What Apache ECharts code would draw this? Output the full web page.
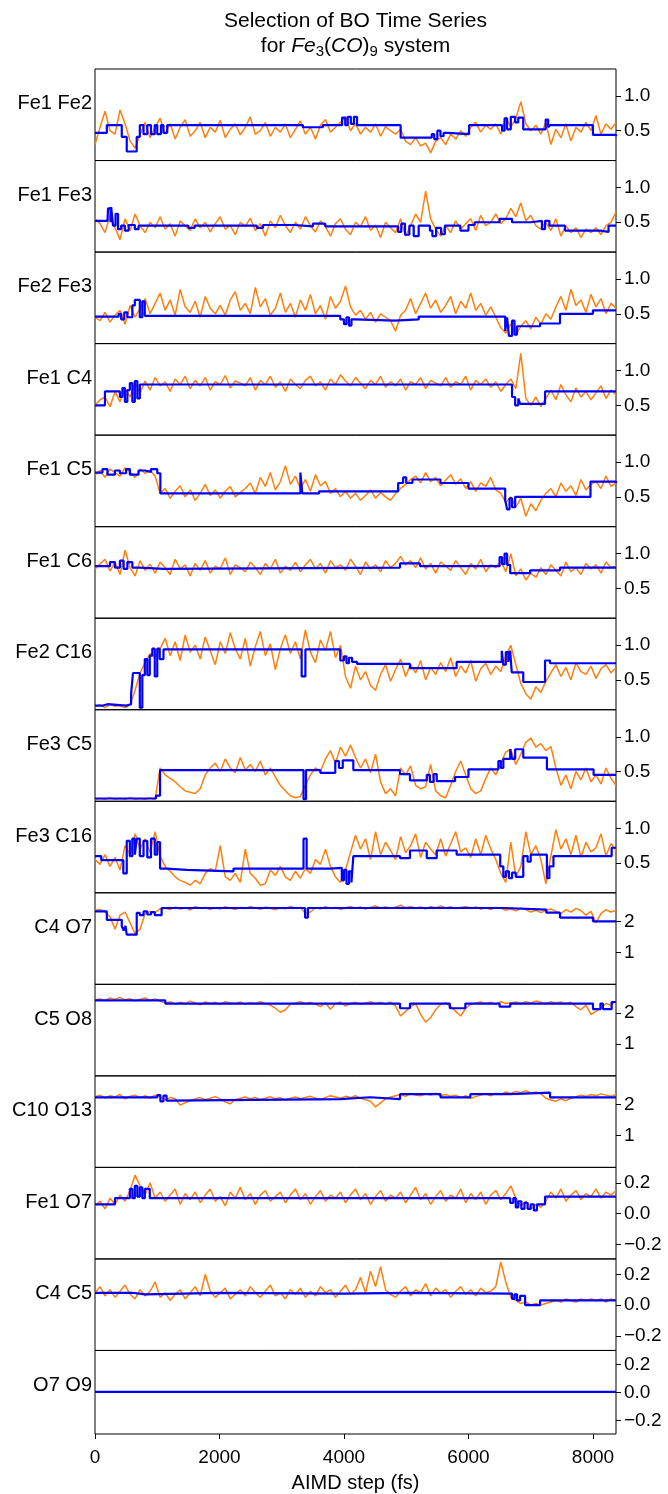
<!DOCTYPE html>
<html>
<head>
<meta charset="utf-8">
<script src="https://cdn.jsdelivr.net/npm/echarts@6/dist/echarts.min.js"></script>
<style>
  html, body { margin: 0; padding: 0; background: #fff; }
  #chart { width: 668px; height: 1494px; }
</style>
</head>
<body>
<div id="chart"></div>
<script>
// x axis
const X_MAX = 8370;
const X_TICKS = [0, 2000, 4000, 6000, 8000];

// y axis groups: [min, max, tick values]
const Y_FE = [0.07, 1.39, [0.5, 1.0]];
const Y_CO = [-0.03, 2.92, [1, 2]];
const Y_SMALL = [-0.295, 0.3, [-0.2, 0.0, 0.2]];

const PANEL_LABELS = ['Fe1 Fe2', 'Fe1 Fe3', 'Fe2 Fe3', 'Fe1 C4', 'Fe1 C5', 'Fe1 C6', 'Fe2 C16',
  'Fe3 C5', 'Fe3 C16', 'C4 O7', 'C5 O8', 'C10 O13', 'Fe1 O7', 'C4 C5', 'O7 O9'];

// orange series: evenly sampled over 0..X_MAX
const fe1Fe2Orange = [0.30,0.55,0.78,0.50,0.45,0.80,0.60,0.35,0.25,0.45,
  0.62,0.40,0.55,0.68,0.45,0.60,0.38,0.55,0.66,0.42,
  0.50,0.62,0.40,0.55,0.48,0.65,0.40,0.52,0.60,0.44,
  0.55,0.70,0.45,0.50,0.62,0.42,0.55,0.48,0.60,0.40,
  0.52,0.64,0.45,0.55,0.38,0.58,0.66,0.48,0.55,0.62,
  0.70,0.50,0.60,0.45,0.55,0.48,0.60,0.42,0.56,0.50,
  0.45,0.52,0.35,0.30,0.40,0.28,0.32,0.18,0.35,0.40,
  0.30,0.45,0.38,0.50,0.42,0.55,0.62,0.48,0.58,0.52,
  0.60,0.45,0.70,0.55,0.68,0.92,0.60,0.50,0.58,0.45,
  0.62,0.30,0.52,0.40,0.60,0.35,0.55,0.48,0.62,0.50,
  0.72,0.45,0.60,0.52,0.62];
const fe1Fe3Orange = [0.55,0.48,0.35,0.60,0.42,0.25,0.55,0.38,0.62,0.45,
  0.35,0.50,0.42,0.58,0.40,0.48,0.30,0.52,0.45,0.38,
  0.55,0.42,0.50,0.36,0.48,0.58,0.40,0.45,0.32,0.50,
  0.44,0.56,0.38,0.48,0.30,0.52,0.42,0.60,0.45,0.35,
  0.50,0.40,0.58,0.45,0.36,0.52,0.44,0.30,0.48,0.55,
  0.40,0.32,0.50,0.44,0.58,0.38,0.46,0.28,0.50,0.42,
  0.35,0.55,0.30,0.45,0.62,0.50,0.95,0.55,0.40,0.30,
  0.45,0.35,0.52,0.40,0.48,0.55,0.38,0.60,0.45,0.50,
  0.62,0.48,0.55,0.70,0.58,0.78,0.52,0.60,0.45,0.40,
  0.50,0.38,0.55,0.30,0.45,0.35,0.42,0.28,0.40,0.35,
  0.42,0.32,0.45,0.50,0.65];
const fe2Fe3Orange = [0.45,0.40,0.52,0.38,0.48,0.55,0.35,0.62,0.45,0.58,
  0.72,0.50,0.65,0.80,0.55,0.70,0.48,0.85,0.60,0.52,
  0.68,0.45,0.75,0.58,0.50,0.62,0.48,0.70,0.82,0.55,
  0.65,0.50,0.88,0.60,0.72,0.48,0.58,0.80,0.52,0.65,
  0.45,0.70,0.55,0.78,0.50,0.62,0.42,0.75,0.58,0.68,
  0.90,0.60,0.48,0.55,0.42,0.52,0.38,0.50,0.45,0.40,
  0.25,0.48,0.55,0.72,0.50,0.65,0.80,0.58,0.70,0.52,
  0.62,0.75,0.50,0.68,0.58,0.80,0.55,0.65,0.48,0.60,
  0.45,0.30,0.22,0.35,0.20,0.32,0.40,0.28,0.45,0.35,
  0.50,0.42,0.60,0.75,0.55,0.85,0.62,0.70,0.52,0.78,
  0.60,0.72,0.50,0.65,0.58];
const fe1C4Orange = [0.50,0.58,0.62,0.48,0.70,0.55,0.75,0.62,0.82,0.68,
  0.85,0.72,0.90,0.78,0.84,0.70,0.88,0.80,0.92,0.74,
  0.86,0.78,0.90,0.72,0.84,0.80,0.93,0.75,0.85,0.82,
  0.78,0.90,0.72,0.86,0.80,0.92,0.76,0.84,0.70,0.88,
  0.80,0.74,0.86,0.92,0.78,0.84,0.72,0.88,0.80,0.94,
  0.85,0.78,0.90,0.82,0.74,0.86,0.80,0.92,0.76,0.84,
  0.78,0.88,0.72,0.84,0.80,0.90,0.74,0.86,0.82,0.78,
  0.90,0.76,0.84,0.80,0.92,0.72,0.86,0.80,0.88,0.76,
  0.84,0.70,0.80,0.88,0.74,1.25,0.60,0.50,0.62,0.48,
  0.60,0.72,0.58,0.80,0.65,0.55,0.75,0.62,0.70,0.58,
  0.68,0.78,0.60,0.72,0.65];
const fe1C5Orange = [0.82,0.88,0.78,0.90,0.85,0.80,0.92,0.86,0.78,0.90,
  0.84,0.88,0.80,0.55,0.62,0.48,0.58,0.66,0.50,0.60,
  0.45,0.55,0.68,0.52,0.60,0.48,0.58,0.65,0.50,0.56,
  0.62,0.70,0.55,0.78,0.65,0.85,0.60,0.72,0.95,0.68,
  0.80,0.62,0.75,0.58,0.82,0.66,0.72,0.55,0.62,0.50,
  0.58,0.48,0.55,0.45,0.52,0.60,0.48,0.56,0.50,0.45,
  0.55,0.62,0.68,0.75,0.80,0.70,0.85,0.72,0.78,0.66,
  0.74,0.82,0.68,0.76,0.62,0.72,0.58,0.70,0.65,0.78,
  0.60,0.55,0.42,0.50,0.35,0.48,0.22,0.40,0.30,0.45,
  0.55,0.62,0.50,0.70,0.58,0.66,0.52,0.75,0.60,0.68,
  0.72,0.62,0.80,0.65,0.70];
const fe1C6Orange = [0.78,0.85,0.92,0.75,0.88,0.70,1.05,0.80,0.68,0.90,
  0.76,0.85,0.72,0.88,0.80,0.70,0.92,0.78,0.84,0.68,
  0.86,0.76,0.90,0.72,0.82,0.78,0.94,0.70,0.84,0.80,
  0.74,0.88,0.80,0.70,0.86,0.78,0.92,0.72,0.82,0.76,
  0.88,0.74,0.84,0.92,0.78,0.86,0.72,0.90,0.80,0.84,
  0.76,0.92,0.82,0.70,0.88,0.78,0.84,0.74,0.90,0.80,
  0.86,0.96,0.84,0.90,0.80,0.94,0.78,0.86,0.72,0.88,
  0.82,0.76,0.90,0.80,0.70,0.86,0.78,0.92,0.74,0.84,
  0.80,0.90,0.74,1.00,0.68,0.78,0.62,0.72,0.66,0.80,
  0.70,0.84,0.76,0.68,0.88,0.74,0.80,0.70,0.86,0.78,
  0.84,0.72,0.88,0.80,0.82];
const fe2C16Orange = [0.12,0.14,0.10,0.15,0.12,0.13,0.10,0.14,0.35,0.60,
  0.75,0.88,0.82,0.95,1.10,0.85,1.05,0.78,1.15,0.90,
  1.00,0.80,1.12,0.92,0.72,1.05,0.88,1.18,0.95,0.80,
  1.10,0.70,0.98,1.20,0.85,1.02,0.65,0.95,1.15,0.88,
  1.05,0.80,1.22,0.90,0.75,1.08,0.92,1.20,0.82,1.00,
  0.55,0.38,0.70,0.50,0.62,0.42,0.35,0.58,0.72,0.48,
  0.65,0.80,0.55,0.72,0.60,0.78,0.50,0.68,0.58,0.75,
  0.62,0.82,0.55,0.70,0.60,0.78,0.48,0.66,0.74,0.58,
  0.70,0.62,0.85,1.00,0.72,0.45,0.30,0.22,0.40,0.32,
  0.48,0.60,0.72,0.55,0.68,0.50,0.75,0.62,0.58,0.70,
  0.52,0.66,0.72,0.60,0.68];
const fe3C5Orange = [0.10,0.11,0.10,0.12,0.10,0.11,0.10,0.12,0.10,0.11,
  0.10,0.12,0.10,0.55,0.45,0.40,0.35,0.28,0.22,0.20,
  0.18,0.25,0.45,0.55,0.62,0.50,0.68,0.55,0.48,0.70,
  0.52,0.60,0.50,0.65,0.45,0.55,0.42,0.30,0.22,0.15,
  0.12,0.14,0.30,0.45,0.55,0.50,0.68,0.80,0.62,0.85,
  0.72,0.88,0.70,0.55,0.68,0.48,0.75,0.35,0.18,0.25,
  0.15,0.55,0.45,0.58,0.30,0.25,0.28,0.60,0.22,0.15,
  0.12,0.30,0.50,0.65,0.45,0.25,0.18,0.22,0.40,0.55,
  0.45,0.62,0.78,0.82,0.60,0.75,0.92,0.98,0.85,0.90,
  0.80,0.86,0.55,0.30,0.45,0.25,0.50,0.38,0.55,0.35,
  0.45,0.32,0.55,0.40,0.30];
const fe3C16Orange = [0.55,0.48,0.62,0.45,0.58,0.40,0.75,0.62,0.92,0.70,
  0.85,0.65,0.95,0.60,0.45,0.38,0.30,0.25,0.22,0.18,
  0.25,0.20,0.35,0.42,0.38,0.75,0.30,0.25,0.35,0.22,
  0.70,0.35,0.28,0.18,0.20,0.40,0.32,0.45,0.30,0.25,
  0.38,0.28,0.42,0.35,0.55,0.48,0.70,0.45,0.30,0.22,
  0.40,0.65,0.90,0.70,0.85,0.55,0.95,0.62,0.80,0.68,
  0.55,0.88,0.65,0.75,0.92,0.58,0.80,0.70,0.62,0.85,
  0.60,0.78,0.95,0.66,0.72,0.58,0.85,0.62,0.90,0.70,
  0.55,0.35,0.22,0.80,0.30,0.45,0.95,0.62,0.75,0.55,
  0.20,0.60,0.98,0.70,0.85,0.62,0.90,0.58,0.80,0.66,
  0.72,0.92,0.60,0.78,0.68];
const c4O7Orange = [2.35,2.38,2.30,2.15,1.75,2.20,2.30,1.95,1.60,1.75,
  2.25,2.32,2.28,2.40,2.42,2.38,2.46,2.40,2.44,2.36,
  2.48,2.42,2.45,2.38,2.44,2.40,2.47,2.42,2.38,2.45,
  2.41,2.48,2.43,2.39,2.46,2.42,2.37,2.44,2.40,2.48,
  2.42,2.45,2.25,2.30,2.44,2.40,2.47,2.42,2.45,2.38,
  2.44,2.48,2.42,2.46,2.40,2.45,2.50,2.43,2.47,2.41,
  2.46,2.52,2.44,2.48,2.42,2.46,2.40,2.48,2.44,2.50,
  2.43,2.47,2.41,2.45,2.48,2.42,2.46,2.40,2.44,2.38,
  2.45,2.42,2.36,2.40,2.34,2.42,2.38,2.30,2.36,2.28,
  2.35,2.40,2.32,2.25,2.38,2.30,2.42,2.35,2.20,2.32,
  1.95,2.25,2.38,2.30,2.35];
const c5O8Orange = [2.42,2.45,2.40,2.48,2.44,2.50,2.42,2.46,2.38,2.44,
  2.48,2.40,2.45,2.38,2.32,2.36,2.28,2.34,2.30,2.38,
  2.32,2.26,2.35,2.30,2.34,2.28,2.36,2.32,2.30,2.35,
  2.28,2.33,2.30,2.36,2.30,2.25,2.15,2.02,2.10,2.28,
  2.32,2.36,2.30,2.34,2.28,2.20,2.32,2.12,2.30,2.35,
  2.22,2.30,2.34,2.28,2.32,2.36,2.30,2.34,2.28,2.35,
  2.22,1.90,2.05,2.20,2.30,1.95,1.70,1.85,2.10,2.28,
  2.32,2.20,2.05,1.90,2.15,2.28,2.32,2.35,2.30,2.34,
  2.28,2.36,2.30,2.33,2.35,2.30,2.36,2.32,2.38,2.34,
  2.30,2.36,2.32,2.35,2.30,2.34,2.20,2.10,2.25,1.95,
  2.05,2.15,2.30,2.25,2.38];
const c10O13Orange = [2.25,2.30,2.20,2.28,2.24,2.32,2.18,2.26,2.30,2.22,
  2.28,2.20,2.30,2.24,2.15,2.22,2.18,1.98,2.05,2.12,
  2.18,2.22,2.15,2.20,2.25,2.18,2.08,2.02,2.15,2.20,
  2.24,2.18,2.22,2.16,2.20,2.25,2.18,2.22,2.14,2.20,
  2.24,2.18,2.22,2.26,2.20,2.15,2.22,2.28,2.24,2.20,
  2.26,2.22,2.28,2.20,2.15,2.10,1.92,2.05,2.18,2.24,
  2.28,2.32,2.26,2.35,2.30,2.28,2.34,2.30,2.36,2.28,
  2.32,2.26,2.30,2.22,2.28,2.20,2.25,2.30,2.34,2.28,
  2.36,2.32,2.40,2.35,2.42,2.38,2.44,2.36,2.40,2.34,
  2.20,2.14,2.10,2.18,2.12,2.20,2.25,2.30,2.26,2.32,
  2.28,2.34,2.30,2.26,2.32];
const fe1O7Orange = [0.05,0.08,0.03,0.10,0.06,0.12,0.08,0.15,0.25,0.18,
  0.12,0.20,0.10,0.14,0.08,0.12,0.16,0.06,0.13,0.09,
  0.14,0.07,0.12,0.16,0.08,0.11,0.05,0.14,0.10,0.17,
  0.09,0.13,0.06,0.12,0.15,0.08,0.11,0.14,0.07,0.12,
  0.16,0.09,0.13,0.06,0.11,0.15,0.08,0.12,0.10,0.14,
  0.07,0.12,0.16,0.09,0.13,0.06,0.11,0.15,0.08,0.12,
  0.10,0.14,0.07,0.12,0.17,0.09,0.13,0.06,0.11,0.15,
  0.08,0.12,0.10,0.16,0.07,0.13,0.09,0.14,0.06,0.12,
  0.15,0.09,0.13,0.18,0.10,0.05,0.08,0.03,0.06,0.04,
  0.08,0.14,0.10,0.16,0.08,0.12,0.15,0.09,0.13,0.11,
  0.16,0.10,0.14,0.12,0.15];
const c4C5Orange = [0.08,0.12,0.06,0.10,0.05,0.09,0.13,0.07,0.04,0.10,
  0.06,0.09,0.15,0.05,0.08,0.03,0.07,0.10,0.04,0.08,
  0.12,0.06,0.20,0.09,0.05,0.08,0.11,0.04,0.07,0.10,
  0.06,0.12,0.08,0.05,0.09,0.13,0.06,0.08,0.04,0.10,
  0.07,0.11,0.05,0.09,0.06,0.12,0.08,0.10,0.05,0.09,
  0.13,0.07,0.10,0.18,0.08,0.22,0.12,0.25,0.10,0.07,
  0.05,0.09,0.12,0.06,0.10,0.08,0.14,0.06,0.11,0.08,
  0.10,0.05,0.09,0.12,0.07,0.10,0.06,0.11,0.08,0.09,
  0.12,0.28,0.15,0.05,0.03,0.01,0.02,0.00,0.01,0.00,
  0.01,0.02,0.03,0.02,0.04,0.03,0.02,0.04,0.03,0.04,
  0.03,0.04,0.02,0.04,0.03];
const o7O9Orange = [0.005,0.004,0.006,0.005,0.004,0.005,0.006,0.004,0.005,0.005,0.004];

// blue series: [step start, value] held until the next entry
const fe1Fe2Blue = [[0,0.47],[190,0.58],[430,0.41],[510,0.20],[670,0.41],[720,0.58],[780,0.45],[840,0.58],
  [900,0.45],[960,0.58],[1000,0.45],[1060,0.58],[1100,0.47],[1160,0.58],[3340,0.55],[3660,0.58],
  [3970,0.69],[4020,0.58],[4060,0.70],[4110,0.60],[4160,0.70],[4210,0.58],[4910,0.40],[5410,0.45],
  [5450,0.38],[5500,0.50],[5550,0.42],[5600,0.47],[5670,0.45],[6010,0.58],[6540,0.50],[6580,0.68],
  [6620,0.52],[6680,0.70],[6750,0.62],[6800,0.69],[6880,0.52],[7240,0.66],[7280,0.55],[7310,0.58],
  [8000,0.44],[8370,0.42]];
const fe1Fe3Blue = [[0,0.52],[200,0.50],[210,0.70],[250,0.50],[260,0.72],[290,0.45],[330,0.62],[370,0.40],
  [420,0.45],[480,0.38],[540,0.46],[640,0.40],[700,0.45],[1500,0.42],[1600,0.45],[2600,0.42],
  [2700,0.46],[3200,0.44],[3500,0.48],[3700,0.44],[4870,0.36],[4920,0.48],[4980,0.32],[5050,0.45],
  [5120,0.30],[5200,0.45],[5380,0.38],[5420,0.30],[5480,0.42],[5560,0.33],[5620,0.45],[5870,0.38],
  [6000,0.46],[6100,0.50],[6500,0.55],[6700,0.50],[7000,0.52],[7180,0.40],[7230,0.52],[7300,0.45],
  [7550,0.38],[8120,0.36],[8250,0.45],[8370,0.45]];
const fe2Fe3Blue = [[0,0.46],[380,0.50],[420,0.42],[470,0.52],[520,0.45],[600,0.62],[640,0.70],[720,0.45],
  [760,0.68],[800,0.47],[3940,0.42],[4000,0.35],[4040,0.45],[4080,0.33],[4120,0.42],[4180,0.40],
  [4820,0.42],[5200,0.46],[6590,0.25],[6620,0.45],[6650,0.18],[6700,0.40],[6740,0.20],[6780,0.32],
  [7150,0.36],[7470,0.50],[8000,0.55],[8370,0.55]];
const fe1C4Blue = [[0,0.50],[160,0.70],[400,0.62],[440,0.75],[480,0.55],[520,0.72],[560,0.82],[600,0.55],
  [640,0.85],[680,0.60],[720,0.80],[6700,0.62],[6750,0.50],[6800,0.60],[6830,0.52],[7230,0.70],[8370,0.70]];
const fe1C5Blue = [[0,0.85],[120,0.90],[200,0.82],[320,0.88],[400,0.84],[500,0.90],[560,0.82],[700,0.88],
  [800,0.86],[900,0.90],[1000,0.84],[1050,0.55],[3300,0.85],[3330,0.55],[3600,0.58],[4870,0.70],
  [4950,0.78],[5000,0.70],[5100,0.75],[5550,0.70],[6000,0.62],[6590,0.45],[6620,0.32],[6660,0.48],
  [6700,0.35],[6750,0.50],[7960,0.72],[8370,0.70]];
const fe1C6Blue = [[0,0.82],[240,0.88],[320,0.80],[400,0.90],[460,0.78],[520,0.88],[600,0.80],[720,0.78],
  [1100,0.80],[4900,0.86],[5220,0.82],[6500,0.95],[6540,0.85],[6580,1.00],[6620,0.84],[6670,0.72],
  [6990,0.76],[7470,0.80],[8370,0.80]];
const fe2C16Blue = [[0,0.13],[130,0.15],[200,0.13],[500,0.15],[580,0.30],[610,0.60],[720,0.10],[760,0.57],
  [800,0.80],[840,0.57],[880,0.85],[920,0.95],[960,0.55],[1000,0.95],[1040,0.80],[1100,0.94],
  [3320,0.55],[3380,0.94],[3940,0.78],[4000,0.84],[4040,0.74],[4080,0.82],[4130,0.76],[4210,0.73],
  [5060,0.67],[5810,0.76],[6535,0.92],[6560,0.72],[6600,0.90],[6640,0.76],[6670,0.92],[6695,0.61],
  [6880,0.47],[7230,0.78],[7310,0.74],[8370,0.73]];
const fe3C5Blue = [[0,0.11],[980,0.15],[1045,0.52],[3350,0.10],[3390,0.52],[3620,0.48],[3860,0.65],
  [3920,0.55],[3980,0.66],[4150,0.52],[4900,0.46],[5060,0.37],[5330,0.45],[5380,0.35],[5440,0.46],
  [5490,0.36],[5785,0.42],[6000,0.53],[6480,0.65],[6520,0.55],[6560,0.68],[6670,0.82],[6700,0.68],
  [6750,0.82],[6880,0.70],[7260,0.53],[8010,0.45],[8370,0.45]];
const fe3C16Blue = [[0,0.60],[100,0.54],[455,0.35],[510,0.82],[560,0.60],[600,0.85],[640,0.62],[670,0.85],
  [720,0.60],[780,0.82],[840,0.58],[900,0.85],[960,0.62],[1000,0.80],[1045,0.42],[1150,0.40],
  [1475,0.38],[2225,0.42],[3350,0.85],[3400,0.42],[3780,0.43],[3965,0.25],[4000,0.40],[4040,0.20],
  [4080,0.38],[4120,0.22],[4150,0.60],[4900,0.57],[5060,0.68],[5330,0.57],[5490,0.68],[5810,0.62],
  [6510,0.45],[6560,0.30],[6600,0.38],[6650,0.28],[6700,0.36],[6760,0.30],[6880,0.60],[6950,0.52],
  [7000,0.62],[7260,0.28],[7300,0.45],[7365,0.60],[8300,0.72],[8370,0.72]];
const c4O7Blue = [[0,2.32],[190,2.05],[430,1.85],[460,1.70],[490,1.85],[510,1.57],[670,2.27],[720,2.20],
  [780,2.32],[840,2.22],[900,2.30],[960,2.20],[1070,2.43],[3375,2.12],[3420,2.43],[6590,2.38],
  [7250,2.28],[7470,2.12],[8000,2.00],[8370,2.00]];
const c5O8Blue = [[0,2.40],[1130,2.30],[4900,2.15],[5060,2.30],[5700,2.15],[5950,2.30],[6500,2.20],
  [6670,2.30],[8000,2.12],[8120,2.30],[8160,2.12],[8300,2.35],[8370,2.35]];
const c10O13Blue = [[0,2.23],[1000,2.30],[1050,2.10],[1100,2.28],[1150,2.12],[1200,2.17],[3940,2.23],
  [4420,2.17],[4900,2.33],[5550,2.23],[6030,2.33],[6670,2.38],[7310,2.23],[8370,2.23]];
const fe1O7Blue = [[0,0.06],[320,0.10],[560,0.16],[600,0.10],[640,0.18],[680,0.11],[720,0.17],[760,0.10],
  [800,0.16],[880,0.10],[6670,0.07],[6720,0.10],[6760,0.04],[6800,0.08],[6850,0.03],[6900,0.07],
  [6950,0.03],[7000,0.06],[7050,0.02],[7100,0.06],[7230,0.11],[8370,0.11]];
const c4C5Blue = [[0,0.08],[600,0.07],[800,0.08],[2000,0.075],[4000,0.08],[5000,0.075],[6700,0.04],
  [6740,0.07],[6780,0.03],[6830,0.06],[6910,0.00],[7150,0.03],[8370,0.03]];
const o7O9Blue = [[0,0.005],[8370,0.005]];

const ORANGE = [fe1Fe2Orange, fe1Fe3Orange, fe2Fe3Orange, fe1C4Orange, fe1C5Orange, fe1C6Orange,
  fe2C16Orange, fe3C5Orange, fe3C16Orange, c4O7Orange, c5O8Orange, c10O13Orange, fe1O7Orange,
  c4C5Orange, o7O9Orange];
const BLUE = [fe1Fe2Blue, fe1Fe3Blue, fe2Fe3Blue, fe1C4Blue, fe1C5Blue, fe1C6Blue, fe2C16Blue,
  fe3C5Blue, fe3C16Blue, c4O7Blue, c5O8Blue, c10O13Blue, fe1O7Blue, c4C5Blue, o7O9Blue];
const Y_OF = [Y_FE, Y_FE, Y_FE, Y_FE, Y_FE, Y_FE, Y_FE, Y_FE, Y_FE, Y_CO, Y_CO, Y_CO,
  Y_SMALL, Y_SMALL, Y_SMALL];

const FONT = '"Liberation Sans", Arial, Helvetica, sans-serif';
const LEFT = 95, RIGHT = 616, TOP = 69, BOTTOM = 1442;
const N = PANEL_LABELS.length;
const H = (BOTTOM - TOP) / N;

function fmt(v) {
  const s = Math.abs(v).toFixed(1);
  return v < 0 ? '\u2212' + s : s;
}

const grids = [], xAxes = [], yAxes = [], series = [], graphics = [];
for (let k = 0; k < N; k++) {
  const last = k === N - 1;
  const [ymin, ymax, ticks] = Y_OF[k];
  grids.push({
    left: LEFT, width: RIGHT - LEFT, top: TOP + k * H, height: H,
    show: true, borderColor: '#000', borderWidth: 1, backgroundColor: 'transparent'
  });
  xAxes.push({
    type: 'value', gridIndex: k, min: 0, max: X_MAX, position: 'bottom',
    axisLine: { show: false, onZero: false },
    splitLine: { show: false },
    minorTick: { show: false },
    axisTick: { show: last, inside: false, length: 5, lineStyle: { color: '#000' }, customValues: X_TICKS },
    axisLabel: { show: last, fontSize: 19, color: '#000', fontFamily: FONT, margin: 14,
      customValues: X_TICKS, formatter: v => String(v) },
    name: last ? 'AIMD step (fs)' : '', nameLocation: 'middle', nameGap: 39,
    nameTextStyle: { fontSize: 20, color: '#000', fontFamily: FONT }
  });
  yAxes.push({
    type: 'value', gridIndex: k, position: 'right', min: ymin, max: ymax,
    axisLine: { show: false, onZero: false },
    splitLine: { show: false },
    minorTick: { show: false },
    axisTick: { show: true, inside: false, length: 5, lineStyle: { color: '#000' }, customValues: ticks },
    axisLabel: {
      show: true, fontSize: 19, color: '#000', fontFamily: FONT, margin: 8,
      customValues: ticks,
      formatter: v => Y_OF[k] === Y_CO ? String(Math.round(v)) : fmt(v)
    }
  });
  const o = ORANGE[k];
  const step = X_MAX / (o.length - 1);
  series.push({
    type: 'line', xAxisIndex: k, yAxisIndex: k, showSymbol: false, silent: true,
    data: o.map((v, i) => [i * step, v]),
    lineStyle: { color: '#ff7f0e', width: 1.5 }, z: 2, animation: false
  });
  series.push({
    type: 'line', xAxisIndex: k, yAxisIndex: k, showSymbol: false, silent: true, step: 'end',
    data: BLUE[k],
    lineStyle: { color: '#0000ff', width: 2.2 }, z: 3, animation: false
  });
  graphics.push({
    type: 'text', x: 92, y: TOP + k * H + H / 2 - 11,
    style: { text: PANEL_LABELS[k], font: '20px ' + FONT, fill: '#000', textAlign: 'right', textVerticalAlign: 'middle' }
  });
}

graphics.push({
  type: 'text', x: (LEFT + RIGHT) / 2, y: 21,
  style: { text: 'Selection of BO Time Series', font: '21px ' + FONT, fill: '#000', textAlign: 'center', textVerticalAlign: 'middle' }
});
graphics.push({
  type: 'text', x: (LEFT + RIGHT) / 2, y: 46,
  style: {
    text: '{n|for }{i|Fe}{s|3}{n|(}{i|CO}{n|)}{s|9}{n| system}',
    fill: '#000', textAlign: 'center', textVerticalAlign: 'middle',
    rich: {
      n: { fontSize: 21, fontFamily: FONT, lineHeight: 26, verticalAlign: 'middle' },
      i: { fontSize: 21, fontFamily: FONT, fontStyle: 'italic', lineHeight: 26, verticalAlign: 'middle' },
      s: { fontSize: 15, fontFamily: FONT, lineHeight: 26, verticalAlign: 'bottom' }
    }
  }
});

const chart = echarts.init(document.getElementById('chart'), null, { renderer: 'canvas' });
chart.setOption({
  backgroundColor: '#fff',
  animation: false,
  textStyle: { fontFamily: FONT },
  grid: grids,
  xAxis: xAxes,
  yAxis: yAxes,
  series: series,
  graphic: graphics
});
</script>
</body>
</html>
